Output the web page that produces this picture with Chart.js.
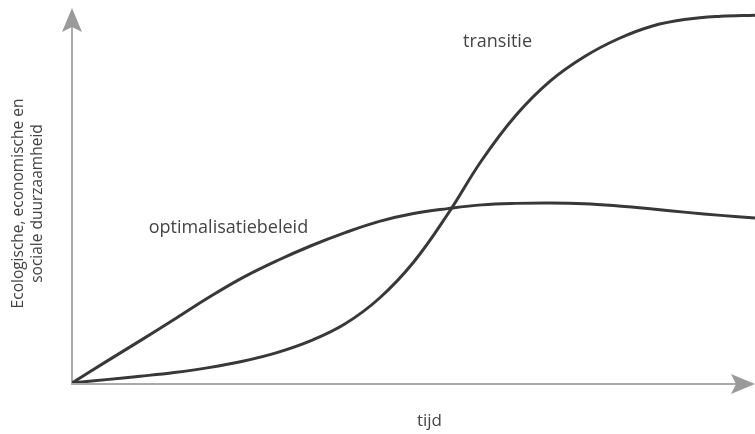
<!DOCTYPE html>
<html>
<head>
<meta charset="utf-8">
<script src="https://cdn.jsdelivr.net/npm/chart.js@4"></script>
<style>
html,body{margin:0;padding:0;background:#fff;}
#wrap{width:755px;height:434px;position:relative;}
</style>
</head>
<body>
<div id="wrap"><canvas id="c" width="755" height="434"></canvas></div>
<script>
// Data (x: time 0-100, y: sustainability 0-100)
const timeX = [0, 5, 10, 15, 20, 25, 30, 35, 40, 45, 50, 55, 60, 65, 70, 75, 80, 85, 90, 95, 100];
const transitieY = [0, 0.9, 1.8, 2.8, 4.1, 5.8, 8.1, 11.3, 15.8, 22.6, 32.2, 45.0, 59.4, 71.4, 80.5, 87.0, 91.8, 95.2, 97.0, 97.8, 98.1];
const optimY = [0, 5.7, 11.3, 17.0, 22.8, 28.1, 32.6, 36.6, 40.1, 43.1, 45.2, 46.5, 47.5, 47.9, 48.0, 47.8, 47.2, 46.4, 45.5, 44.7, 44.0];
const seriesLabels = ['transitie', 'optimalisatiebeleid'];
const labelPos = [[62.3, 91.0], [22.9, 41.5]]; // where each curve's name is written (data coords)
const xTitle = 'tijd';
const yTitle = ['Ecologische, economische en', 'sociale duurzaamheid'];

const pts = (xs, ys) => xs.map((x, i) => ({x, y: ys[i]}));
const FONT = '"Open Sans", "Noto Sans", sans-serif';
const AXIS = '#aaaaaa';
const TEXT = '#444444';

const decor = {
  id: 'decor',
  beforeDatasetsDraw(chart) {
    const {ctx, chartArea: a} = chart;
    const x0 = a.left, y0 = a.bottom;
    ctx.save();
    ctx.strokeStyle = AXIS;
    ctx.lineWidth = 2;
    ctx.beginPath();
    ctx.moveTo(x0, y0 + 1); ctx.lineTo(x0, a.top + 10);
    ctx.moveTo(x0 - 1, y0 + 1); ctx.lineTo(a.right - 10, y0 + 1);
    ctx.stroke();
    ctx.fillStyle = '#9a9a9a';
    // up arrow
    ctx.beginPath();
    ctx.moveTo(x0, a.top);
    ctx.lineTo(x0 - 10, a.top + 24);
    ctx.lineTo(x0, a.top + 19);
    ctx.lineTo(x0 + 10, a.top + 24);
    ctx.closePath(); ctx.fill();
    // right arrow
    ctx.beginPath();
    ctx.moveTo(a.right, y0 + 1);
    ctx.lineTo(a.right - 24, y0 - 9);
    ctx.lineTo(a.right - 19, y0 + 1);
    ctx.lineTo(a.right - 24, y0 + 11);
    ctx.closePath(); ctx.fill();
    ctx.restore();
  },
  afterDatasetsDraw(chart) {
    const {ctx, chartArea: a, scales} = chart;
    ctx.save();
    ctx.fillStyle = TEXT;
    ctx.textAlign = 'center';
    ctx.textBaseline = 'middle';
    ctx.font = '18px ' + FONT;
    seriesLabels.forEach((t, i) => {
      ctx.fillText(t, scales.x.getPixelForValue(labelPos[i][0]), scales.y.getPixelForValue(labelPos[i][1]));
    });
    ctx.font = '17px ' + FONT;
    ctx.fillText(xTitle, (a.left + a.right) / 2 + 16, a.bottom + 38);
    ctx.font = '15.5px ' + FONT;
    ctx.translate(28, (a.top + a.bottom) / 2 + 8);
    ctx.rotate(-Math.PI / 2);
    ctx.fillText(yTitle[0], 0, -9);
    ctx.fillText(yTitle[1], 0, 10);
    ctx.restore();
  }
};

new Chart(document.getElementById('c'), {
  type: 'line',
  data: {
    datasets: [
      {label: seriesLabels[0], data: pts(timeX, transitieY)},
      {label: seriesLabels[1], data: pts(timeX, optimY)}
    ]
  },
  options: {
    responsive: false,
    animation: false,
    layout: {padding: {left: 72, right: 0, top: 8, bottom: 51}},
    elements: {
      line: {borderColor: '#383838', borderWidth: 3, tension: 0.4, fill: false},
      point: {radius: 0}
    },
    scales: {
      x: {type: 'linear', min: 0, max: 100, display: false},
      y: {type: 'linear', min: 0, max: 100, display: false}
    },
    plugins: {legend: {display: false}, tooltip: {enabled: false}}
  },
  plugins: [decor]
});
</script>
</body>
</html>
